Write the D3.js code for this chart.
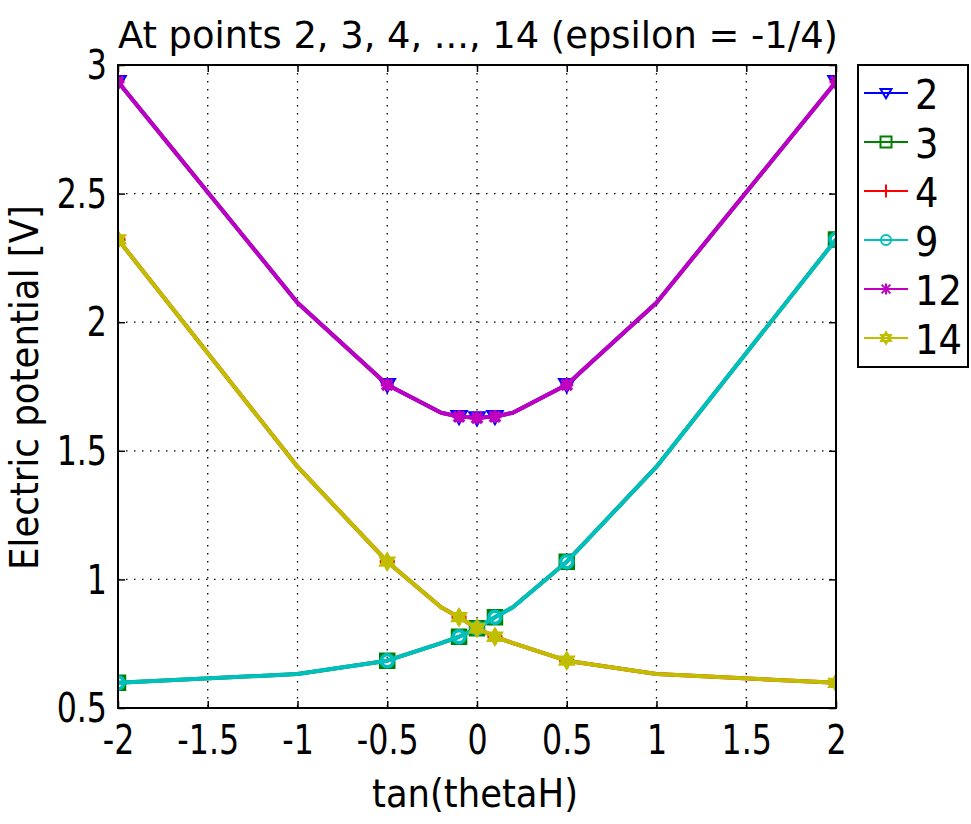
<!DOCTYPE html>
<html>
<head>
<meta charset="utf-8">
<script src="https://cdn.jsdelivr.net/npm/d3@7"></script>
<style>
  body { margin: 0; background: #fff; }
  text { font-family: "DejaVu Sans Condensed", "DejaVu Sans", sans-serif; fill: #000; }
</style>
</head>
<body>
<div id="chart"></div>
<script>
// tan(thetaH) samples
var xVals = [-2, -1, -0.5, -0.2, -0.1, 0, 0.1, 0.2, 0.5, 1, 2];
// samples that carry a marker
var markX = [-2, -0.5, -0.1, 0, 0.1, 0.5, 2];

// electric potential at each point [V]
var p2  = [2.935, 2.076, 1.757, 1.648, 1.633, 1.628, 1.633, 1.648, 1.757, 2.076, 2.935];
var p3  = [0.598, 0.632, 0.684, 0.752, 0.777, 0.810, 0.853, 0.892, 1.069, 1.438, 2.322];
var p4  = [2.322, 1.438, 1.069, 0.892, 0.853, 0.810, 0.777, 0.752, 0.684, 0.632, 0.598];
var p9  = [0.598, 0.632, 0.684, 0.752, 0.777, 0.810, 0.853, 0.892, 1.069, 1.438, 2.322];
var p12 = [2.935, 2.076, 1.757, 1.648, 1.633, 1.628, 1.633, 1.648, 1.757, 2.076, 2.935];
var p14 = [2.322, 1.438, 1.069, 0.892, 0.853, 0.810, 0.777, 0.752, 0.684, 0.632, 0.598];

var names   = ["2", "3", "4", "9", "12", "14"];
var values  = [p2, p3, p4, p9, p12, p14];
var colors  = ["#0000ff", "#008000", "#ff0000", "#00bfbf", "#bf00bf", "#bfbf00"];
var symbols = ["triangleDown", "square", "plus", "circle", "asterisk", "hexagram"];

var xTicks = [-2, -1.5, -1, -0.5, 0, 0.5, 1, 1.5, 2];
var yTicks = [0.5, 1, 1.5, 2, 2.5, 3];

var W = 971, H = 824;
var margin = {top: 65, right: 135, bottom: 116, left: 118},
    width = 836 - margin.left,
    height = 708 - margin.top;

var svg = d3.select("#chart").append("svg")
    .attr("width", W)
    .attr("height", H);

var x = d3.scaleLinear().domain([-2, 2]).range([0, width]),
    y = d3.scaleLinear().domain([0.5, 3]).range([height, 0]);

var g = svg.append("g")
    .attr("transform", "translate(" + margin.left + "," + margin.top + ")");

// dotted grid
g.append("g").selectAll("line.gx")
    .data(xTicks.slice(1, -1)).enter().append("line")
    .attr("x1", function(d) { return x(d); }).attr("x2", function(d) { return x(d); })
    .attr("y1", 0).attr("y2", height)
    .attr("stroke", "#000").attr("stroke-width", 1.3).attr("stroke-dasharray", "1.5,6.5");
g.append("g").selectAll("line.gy")
    .data(yTicks.slice(1, -1)).enter().append("line")
    .attr("y1", function(d) { return y(d); }).attr("y2", function(d) { return y(d); })
    .attr("x1", 0).attr("x2", width)
    .attr("stroke", "#000").attr("stroke-width", 1.3).attr("stroke-dasharray", "1.5,6.5");

// axes with inward ticks
var fmt = function(d) { return String(d); };
var ax = g.append("g").attr("class", "axis axis--x")
    .attr("transform", "translate(0," + height + ")")
    .call(d3.axisBottom(x).tickValues(xTicks).tickFormat(fmt).tickSizeInner(-7).tickSizeOuter(0).tickPadding(18));
var axt = g.append("g").call(d3.axisTop(x).tickValues(xTicks).tickFormat("").tickSizeInner(-7).tickSizeOuter(0));
var ay = g.append("g").attr("class", "axis axis--y")
    .call(d3.axisLeft(y).tickValues(yTicks).tickFormat(fmt).tickSizeInner(-7).tickSizeOuter(0).tickPadding(11));
var ayr = g.append("g").attr("transform", "translate(" + width + ",0)")
    .call(d3.axisRight(y).tickValues(yTicks).tickFormat("").tickSizeInner(-7).tickSizeOuter(0));

[ax, axt, ay, ayr].forEach(function(a) {
  a.select(".domain").remove();
  a.selectAll(".tick line").attr("stroke", "#000").attr("stroke-width", 1.5);
  a.selectAll(".tick text").attr("font-size", 40).attr("fill", "#000")
      .style("font-family", "'DejaVu Sans Condensed', 'DejaVu Sans', sans-serif")
      .each(function() {
        // the original face is narrower than DejaVu
        var w = this.getComputedTextLength();
        if (w > 0) d3.select(this).attr("textLength", w * 0.88).attr("lengthAdjust", "spacingAndGlyphs");
      });
});
ax.selectAll(".tick text").attr("dy", "0.71em");
ay.selectAll(".tick text").attr("dy", "0.34em");

g.append("defs").append("clipPath").attr("id", "plotclip")
  .append("rect").attr("width", width).attr("height", height);

// marker paths, centred on 0,0
function markerPath(kind, r) {
  switch (kind) {
    case "triangleDown": return "M" + (-r) + "," + (-r * 0.75) + "L" + r + "," + (-r * 0.75) + "L0," + (r * 0.95) + "Z";
    case "square": return "M" + (-r) + "," + (-r) + "h" + (2 * r) + "v" + (2 * r) + "h" + (-2 * r) + "Z";
    case "plus": return "M" + (-r - 1) + ",0H" + (r + 1) + "M0," + (-r - 1) + "V" + (r + 1);
    case "circle": return "M" + (-r + 0.5) + ",0a" + (r - 0.5) + "," + (r - 0.5) + " 0 1,0 " + (2 * r - 1) + ",0a" + (r - 0.5) + "," + (r - 0.5) + " 0 1,0 " + (-(2 * r - 1)) + ",0";
    case "asterisk":
      var q = r * 0.8;
      return "M" + (-r) + ",0H" + r + "M" + (-q) + "," + (-q) + "L" + q + "," + q + "M" + (-q) + "," + q + "L" + q + "," + (-q) + "M0," + (-r) + "V" + r;
    case "hexagram":
      var a = r * 1.05, pts1 = [], pts2 = [];
      for (var i = 0; i < 3; i++) {
        var t1 = -Math.PI / 2 + i * 2 * Math.PI / 3, t2 = Math.PI / 2 + i * 2 * Math.PI / 3;
        pts1.push([a * Math.cos(t1), a * Math.sin(t1)]);
        pts2.push([a * Math.cos(t2), a * Math.sin(t2)]);
      }
      return "M" + pts1.join("L") + "ZM" + pts2.join("L") + "Z";
  }
}

var line = d3.line()
    .x(function(d) { return x(d[0]); })
    .y(function(d) { return y(d[1]); });

var plot = g.append("g").attr("clip-path", "url(#plotclip)");

values.forEach(function(vals, i) {
  var pts = xVals.map(function(xv, j) { return [xv, vals[j]]; });
  plot.append("path")
      .datum(pts)
      .attr("fill", "none")
      .attr("stroke", colors[i])
      .attr("stroke-width", 4)
      .attr("stroke-linejoin", "round")
      .attr("d", line);
  plot.selectAll(".m" + i)
      .data(pts.filter(function(p) { return markX.indexOf(p[0]) >= 0; }))
      .enter().append("path")
      .attr("class", "m" + i)
      .attr("transform", function(d) { return "translate(" + x(d[0]) + "," + y(d[1]) + ")"; })
      .attr("d", markerPath(symbols[i], 6.5))
      .attr("fill", "none")
      .attr("stroke", colors[i])
      .attr("stroke-width", 3.5);
});

// frame
g.append("rect").attr("width", width).attr("height", height)
    .attr("fill", "none").attr("stroke", "#000").attr("stroke-width", 2);

// labels
svg.append("text")
    .attr("x", 118).attr("y", 48)
    .attr("font-size", 38)
    .attr("textLength", 720).attr("lengthAdjust", "spacingAndGlyphs")
    .text("At points 2, 3, 4, ..., 14 (epsilon = -1/4)");

svg.append("text")
    .attr("x", 372).attr("y", 807)
    .attr("font-size", 39)
    .attr("textLength", 206).attr("lengthAdjust", "spacingAndGlyphs")
    .text("tan(thetaH)");

svg.append("text")
    .attr("transform", "translate(38,570) rotate(-90)")
    .attr("font-size", 39)
    .attr("textLength", 365).attr("lengthAdjust", "spacingAndGlyphs")
    .text("Electric potential [V]");

// legend
var leg = svg.append("g").attr("transform", "translate(858,65)");
leg.append("rect").attr("width", 110).attr("height", 302)
    .attr("fill", "#fff").attr("stroke", "#000").attr("stroke-width", 2);
names.forEach(function(n, i) {
  var cy = 28 + i * 49;
  leg.append("line").attr("x1", 6).attr("x2", 50).attr("y1", cy).attr("y2", cy)
      .attr("stroke", colors[i]).attr("stroke-width", 2);
  leg.append("path").attr("transform", "translate(28," + cy + ")")
      .attr("d", markerPath(symbols[i], 5.5))
      .attr("fill", "none").attr("stroke", colors[i]).attr("stroke-width", 2);
  leg.append("text").attr("x", 57).attr("y", cy + 16)
      .attr("font-size", 41).text(n);
});
</script>
</body>
</html>
